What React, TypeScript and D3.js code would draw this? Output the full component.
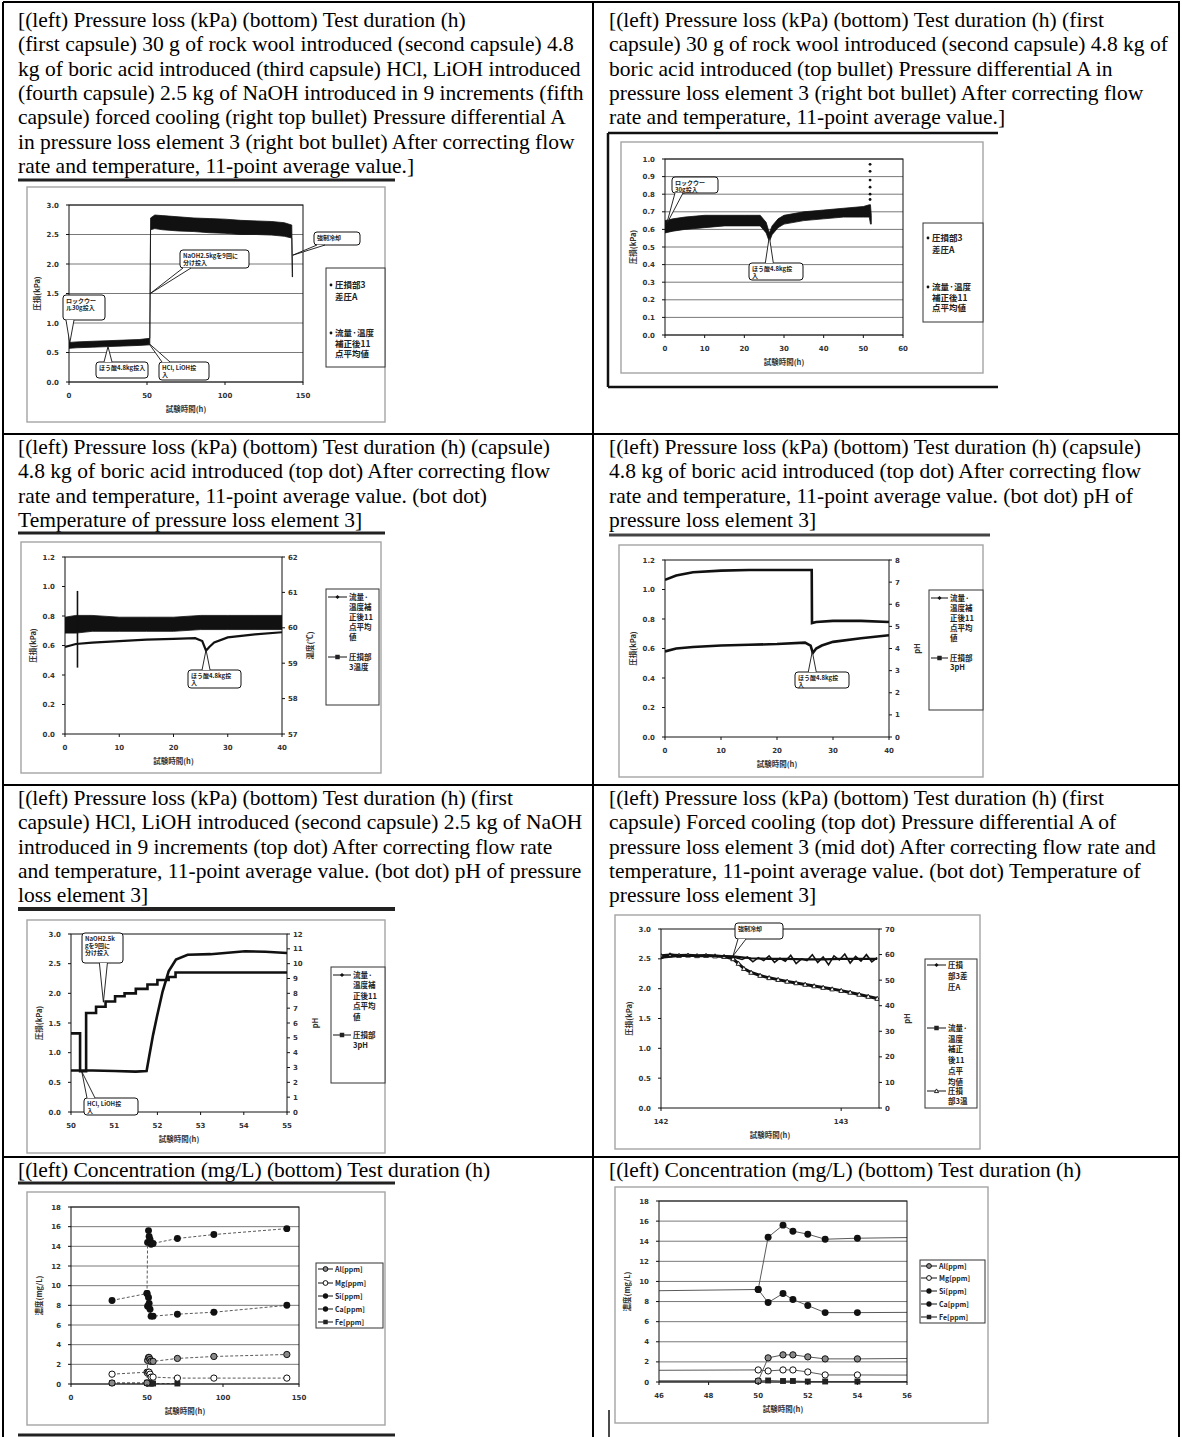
import React from "react";
import * as d3 from "d3";

const SERIF = "'Liberation Serif', 'Times New Roman', serif";
const JP = "'Noto Sans CJK JP', 'Noto Sans', sans-serif";
const NUM = "'DejaVu Sans', sans-serif";

// caption text, one entry per printed line
const captionA = [
  "[(left) Pressure loss (kPa) (bottom) Test duration (h)",
  "(first capsule) 30 g of rock wool introduced (second capsule) 4.8",
  "kg of boric acid introduced (third capsule) HCl, LiOH introduced",
  "(fourth capsule) 2.5 kg of NaOH introduced in 9 increments (fifth",
  "capsule) forced cooling (right top bullet) Pressure differential A",
  "in pressure loss element 3 (right bot bullet) After correcting flow",
  "rate and temperature, 11-point average value.]",
];
const captionB = [
  "[(left) Pressure loss (kPa) (bottom) Test duration (h) (first",
  "capsule) 30 g of rock wool introduced (second capsule) 4.8 kg of",
  "boric acid introduced (top bullet) Pressure differential A in",
  "pressure loss element 3 (right bot bullet) After correcting flow",
  "rate and temperature, 11-point average value.]",
];
const captionC = [
  "[(left) Pressure loss (kPa) (bottom) Test duration (h) (capsule)",
  "4.8 kg of boric acid introduced (top dot) After correcting flow",
  "rate and temperature, 11-point average value. (bot dot)",
  "Temperature of pressure loss element 3]",
];
const captionD = [
  "[(left) Pressure loss (kPa) (bottom) Test duration (h) (capsule)",
  "4.8 kg of boric acid introduced (top dot) After correcting flow",
  "rate and temperature, 11-point average value. (bot dot) pH of",
  "pressure loss element 3]",
];
const captionE = [
  "[(left) Pressure loss (kPa) (bottom) Test duration (h) (first",
  "capsule) HCl, LiOH introduced (second capsule) 2.5 kg of NaOH",
  "introduced in 9 increments (top dot) After correcting flow rate",
  "and temperature, 11-point average value. (bot dot) pH of pressure",
  "loss element 3]",
];
const captionF = [
  "[(left) Pressure loss (kPa) (bottom) Test duration (h) (first",
  "capsule) Forced cooling (top dot) Pressure differential A of",
  "pressure loss element 3 (mid dot) After correcting flow rate and",
  "temperature, 11-point average value. (bot dot) Temperature of",
  "pressure loss element 3]",
];
const captionConc = ["[(left) Concentration (mg/L) (bottom) Test duration (h)"];

// Fig A: whole run, 0-150 h. noisy trace kept as low / high envelope
const aTime = [0, 5, 15, 25, 35, 45, 51.8, 52.3, 55, 60, 70, 80, 90, 100, 110, 120, 130, 138, 142.8, 143.1, 143.3];
const aLow = [0.57, 0.58, 0.59, 0.6, 0.61, 0.62, 0.63, 2.58, 2.6, 2.58, 2.56, 2.55, 2.53, 2.52, 2.5, 2.5, 2.49, 2.47, 2.44, 1.78, 1.78];
const aHigh = [0.67, 0.68, 0.69, 0.7, 0.71, 0.72, 0.74, 2.78, 2.83, 2.82, 2.8, 2.78, 2.77, 2.76, 2.74, 2.73, 2.72, 2.7, 2.66, 2.1, 1.84];
const aXTicks = [0, 50, 100, 150];
const aYTicks = [0, 0.5, 1, 1.5, 2, 2.5, 3];

// Fig B: 0-60 h
const bTime = [0, 2, 5, 10, 15, 20, 24, 25.5, 26.3, 27, 28.5, 30, 35, 40, 45, 50, 51.5, 51.8, 52.0];
const bLow = [0.58, 0.59, 0.6, 0.61, 0.62, 0.62, 0.62, 0.58, 0.53, 0.57, 0.61, 0.63, 0.65, 0.66, 0.67, 0.67, 0.67, 0.63, 0.63];
const bHigh = [0.65, 0.66, 0.67, 0.68, 0.68, 0.68, 0.68, 0.64, 0.58, 0.62, 0.66, 0.68, 0.7, 0.71, 0.72, 0.73, 0.74, 0.74, 0.68];
const bSpikeTime = 51.7;
const bSpikeVals = [0.97, 0.93, 0.88, 0.84, 0.8, 0.77];
const bXTicks = [0, 10, 20, 30, 40, 50, 60];
const bYTicks = [0, 0.1, 0.2, 0.3, 0.4, 0.5, 0.6, 0.7, 0.8, 0.9, 1.0];

// Fig C: pressure (left) and temperature (right, degC)
const cTime = [0, 1, 2, 5, 10, 15, 20, 24, 25.3, 26, 26.6, 27.5, 30, 35, 40];
const cPress = [0.59, 0.6, 0.61, 0.62, 0.63, 0.64, 0.645, 0.65, 0.63, 0.565, 0.59, 0.62, 0.655, 0.675, 0.69];
const cSpikeTime = [2.3, 2.3];
const cSpikeVals = [0.45, 0.97];
const cTempTime = [0, 2, 5, 10, 15, 20, 25, 30, 35, 40];
const cTempLow = [59.85, 59.85, 59.9, 59.9, 59.9, 59.9, 59.95, 59.95, 59.95, 59.95];
const cTempHigh = [60.3, 60.35, 60.35, 60.3, 60.3, 60.3, 60.35, 60.35, 60.35, 60.35];
const cXTicks = [0, 10, 20, 30, 40];
const cYTicks = [0, 0.2, 0.4, 0.6, 0.8, 1.0, 1.2];
const cRTicks = [57, 58, 59, 60, 61, 62];

// Fig D: pressure (left) and pH (right)
const dTime = [0, 2, 5, 10, 15, 20, 25, 26, 26.4, 27, 28, 30, 35, 40];
const dPress = [0.58, 0.6, 0.61, 0.62, 0.625, 0.63, 0.64, 0.62, 0.57, 0.6, 0.62, 0.645, 0.67, 0.69];
const dPhTime = [0, 2, 5, 10, 15, 20, 26.2, 26.25, 27, 30, 35, 40];
const dPh = [7.1, 7.3, 7.45, 7.52, 7.55, 7.55, 7.55, 5.15, 5.2, 5.25, 5.25, 5.2];
const dRTicks = [0, 1, 2, 3, 4, 5, 6, 7, 8];

// Fig E: 50-55 h, pressure and pH (NaOH in 9 steps)
const ePressTime = [50, 50.5, 51, 51.5, 51.75, 51.81, 51.9, 51.99, 52.12, 52.26, 52.43, 52.7, 53.23, 54.03, 54.5, 55];
const ePress = [0.7, 0.7, 0.69, 0.68, 0.69, 0.94, 1.3, 1.61, 2.03, 2.37, 2.57, 2.65, 2.66, 2.71, 2.7, 2.68];
const ePhTime = [50, 50.21, 50.35, 50.58, 50.8, 51.02, 51.24, 51.5, 51.77, 52.0, 52.26, 52.42, 55];
const ePh = [5.3, 2.75, 6.67, 7.1, 7.45, 7.8, 8.0, 8.3, 8.6, 8.9, 9.1, 9.4, 9.35];
const eXTicks = [50, 51, 52, 53, 54, 55];
const eYTicks = [0, 0.5, 1, 1.5, 2, 2.5, 3];
const eRTicks = [0, 1, 2, 3, 4, 5, 6, 7, 8, 9, 10, 11, 12];

// Fig F: forced cooling, 142-143.2 h
const fPressTime = [142.0, 142.05, 142.1, 142.15, 142.2, 142.25, 142.3, 142.35, 142.4, 142.45, 142.48, 142.51, 142.54, 142.57, 142.6, 142.63, 142.66, 142.69, 142.72, 142.75, 142.78, 142.81, 142.84, 142.87, 142.9, 142.93, 142.96, 142.99, 143.02, 143.05, 143.08, 143.11, 143.14, 143.17, 143.2];
const fPress = [2.5, 2.58, 2.55, 2.56, 2.54, 2.56, 2.55, 2.55, 2.53, 2.49, 2.53, 2.45, 2.52, 2.47, 2.55, 2.44, 2.51, 2.46, 2.56, 2.42, 2.5, 2.47, 2.57, 2.44, 2.53, 2.4, 2.55, 2.48, 2.58, 2.43, 2.54, 2.46, 2.57, 2.45, 2.52];
const fAvgTime = [142.0, 142.1, 142.2, 142.3, 142.4, 142.5, 142.6, 142.7, 142.8, 142.9, 143.0, 143.1, 143.2];
const fAvg = [2.52, 2.55, 2.55, 2.55, 2.54, 2.51, 2.5, 2.5, 2.49, 2.49, 2.5, 2.5, 2.5];
const fTempTime = [142.0, 142.05, 142.1, 142.15, 142.2, 142.25, 142.3, 142.35, 142.4, 142.43, 142.46, 142.5, 142.55, 142.6, 142.65, 142.7, 142.75, 142.8, 142.85, 142.9, 142.95, 143.0, 143.05, 143.1, 143.15, 143.2];
const fTemp = [59.5, 59.8, 59.6, 59.7, 59.5, 59.6, 59.4, 59.2, 58.3, 56.5, 54.5, 53.0, 51.8, 50.9, 50.2, 49.5, 48.9, 48.3, 47.7, 47.1, 46.5, 45.9, 45.2, 44.4, 43.6, 42.8];
const fXTicks = [142, 143];
const fYTicks = [0, 0.5, 1, 1.5, 2, 2.5, 3];
const fRTicks = [0, 10, 20, 30, 40, 50, 60, 70];

// Fig G / H: water quality samples (mg/L)
const concTime = [27, 50, 50.4, 51.0, 51.4, 52.0, 52.7, 54.0, 70, 94, 142];
const alConc = [0.1, 0.1, 2.4, 2.7, 2.7, 2.5, 2.3, 2.3, 2.6, 2.8, 3.0];
const mgConc = [1.0, 1.2, 1.1, 1.2, 1.2, 1.0, 0.7, 0.7, 0.6, 0.6, 0.6];
const siConc = [null, 9.2, 14.4, 15.6, 15.0, 14.7, 14.2, 14.3, 14.8, 15.2, 15.8];
const caConc = [8.5, 9.2, 7.9, 8.8, 8.2, 7.6, 6.9, 6.9, 7.1, 7.3, 8.0];
const feConc = [0.1, 0.1, 0.15, 0.1, 0.1, 0.05, 0.05, 0.05, 0.05, null, null];
const gXTicks = [0, 50, 100, 150];
const hXTicks = [46, 48, 50, 52, 54, 56];
const concYTicks = [0, 2, 4, 6, 8, 10, 12, 14, 16, 18];
const concNames = ["Al[ppm]", "Mg[ppm]", "Si[ppm]", "Ca[ppm]", "Fe[ppm]"];

type Box = { x: number; y: number; w: number; h: number };
type Rect = { left: number; right: number; top: number; bottom: number };
type Mark = "bullet" | "diamond" | "square" | "triangle" | "grayCircle" | "openCircle" | "dot";
type LegendItem = { lines: string[]; mark: Mark; y: number; pitch: number };
type Legend = { box: Box; markX: [number, number]; textX: number; size: number; items: LegendItem[] };
type Note = { lines: string[]; box: Box; at: [number, number] };
type S = d3.ScaleLinear<number, number>;

const fmt1 = d3.format(".1f");
const fmt0 = d3.format("d");

function linePath(ts: number[], vs: (number | null)[], x: S, y: S, curve = d3.curveLinear) {
  const idx = ts.map((_, i) => i);
  return (
    d3
      .line<number>()
      .defined((i) => vs[i] != null)
      .x((i) => x(ts[i]))
      .y((i) => y(vs[i] as number))
      .curve(curve)(idx) ?? ""
  );
}

function bandPath(ts: number[], lo: number[], hi: number[], x: S, y: S) {
  const idx = ts.map((_, i) => i);
  return (
    d3
      .area<number>()
      .x((i) => x(ts[i]))
      .y0((i) => y(lo[i]))
      .y1((i) => y(hi[i]))(idx) ?? ""
  );
}

function Marker({ kind, cx, cy, s = 1 }: { kind: Mark; cx: number; cy: number; s?: number }) {
  switch (kind) {
    case "bullet":
      return <circle cx={cx} cy={cy} r={1.4} fill="#111" />;
    case "diamond":
      return <path d={`M${cx},${cy - 2.6 * s}L${cx + 2.6 * s},${cy}L${cx},${cy + 2.6 * s}L${cx - 2.6 * s},${cy}Z`} fill="#111" />;
    case "square":
      return <rect x={cx - 2.8 * s} y={cy - 2.8 * s} width={5.6 * s} height={5.6 * s} fill="#222" />;
    case "triangle":
      return <path d={`M${cx},${cy - 2.6 * s}L${cx + 2.6 * s},${cy + 2 * s}L${cx - 2.6 * s},${cy + 2 * s}Z`} fill="#fff" stroke="#111" strokeWidth={0.9} />;
    case "grayCircle":
      return <circle cx={cx} cy={cy} r={3 * s} fill="#8a8a8a" stroke="#111" strokeWidth={1} />;
    case "openCircle":
      return <circle cx={cx} cy={cy} r={3 * s} fill="#fff" stroke="#111" strokeWidth={1} />;
    default:
      return <circle cx={cx} cy={cy} r={3.3 * s} fill="#111" />;
  }
}

function Callout({ note, x, y }: { note: Note; x: S; y: S }) {
  const { box } = note;
  const tx = x(note.at[0]);
  const ty = y(note.at[1]);
  const clamp = (v: number, a: number, b: number) => Math.max(a, Math.min(b, v));
  let b1: [number, number];
  let b2: [number, number];
  if (ty > box.y + box.h) {
    const c = clamp(tx, box.x + 7, box.x + box.w - 7);
    b1 = [c - 4, box.y + box.h];
    b2 = [c + 4, box.y + box.h];
  } else if (ty < box.y) {
    const c = clamp(tx, box.x + 7, box.x + box.w - 7);
    b1 = [c - 4, box.y];
    b2 = [c + 4, box.y];
  } else if (tx < box.x) {
    const c = clamp(ty, box.y + 4, box.y + box.h - 4);
    b1 = [box.x, c - 3];
    b2 = [box.x, c + 3];
  } else {
    const c = clamp(ty, box.y + 4, box.y + box.h - 4);
    b1 = [box.x + box.w, c - 3];
    b2 = [box.x + box.w, c + 3];
  }
  return (
    <g>
      <rect x={box.x} y={box.y} width={box.w} height={box.h} rx={3} fill="#fff" stroke="#111" strokeWidth={1} />
      <path d={`M${b1[0]},${b1[1]}L${tx},${ty}L${b2[0]},${b2[1]}`} fill="#fff" stroke="#111" strokeWidth={0.9} />
      {note.lines.map((l, i) => (
        <text key={i} x={box.x + 3} y={box.y + 7.5 + i * 7} fontFamily={JP} fontSize={6} fontWeight={700} fill="#222">
          {l}
        </text>
      ))}
    </g>
  );
}

function LegendBox({ lg }: { lg: Legend }) {
  return (
    <g>
      <rect x={lg.box.x} y={lg.box.y} width={lg.box.w} height={lg.box.h} fill="#fff" stroke="#333" strokeWidth={1} />
      {lg.items.map((it, k) => (
        <g key={k}>
          {it.mark === "bullet" ? (
            <Marker kind="bullet" cx={lg.markX[0]} cy={it.y} />
          ) : (
            <g>
              <line x1={lg.markX[0]} x2={lg.markX[1]} y1={it.y} y2={it.y} stroke="#111" strokeWidth={1} />
              <Marker kind={it.mark} cx={(lg.markX[0] + lg.markX[1]) / 2} cy={it.y} s={0.8} />
            </g>
          )}
          {it.lines.map((l, i) => (
            <text key={i} x={lg.textX} y={it.y + i * it.pitch + lg.size * 0.38} fontFamily={JP} fontSize={lg.size} fontWeight={700} fill="#222">
              {l}
            </text>
          ))}
        </g>
      ))}
    </g>
  );
}

type PanelProps = {
  id: string;
  frame: Box;
  plot: Rect;
  xDomain: [number, number];
  xTicks: number[];
  yDomain: [number, number];
  yTicks: number[];
  yFormat: (d: number) => string;
  rDomain?: [number, number];
  rTicks?: number[];
  rLabel?: string;
  grid?: boolean;
  yLabel: string;
  legend: Legend;
  notes?: Note[];
  lines: (x: S, y: S, r: S) => React.ReactNode;
  marks?: (x: S, y: S, r: S) => React.ReactNode;
};

function Panel(p: PanelProps) {
  const { plot, frame } = p;
  const x = d3.scaleLinear().domain(p.xDomain).range([plot.left, plot.right]);
  const y = d3.scaleLinear().domain(p.yDomain).range([plot.bottom, plot.top]);
  const r = p.rDomain ? d3.scaleLinear().domain(p.rDomain).range([plot.bottom, plot.top]) : y;
  const clip = `clip-${p.id}`;
  const tick = { fontFamily: NUM, fontSize: 7, fontWeight: 700, fill: "#333" } as const;
  const label = { fontFamily: JP, fontSize: 7.5, fontWeight: 700, fill: "#333" } as const;
  const midY = (plot.top + plot.bottom) / 2;
  return (
    <g>
      <rect x={frame.x} y={frame.y} width={frame.w} height={frame.h} fill="#fff" stroke="#a4a4a4" strokeWidth={1.4} />
      <clipPath id={clip}>
        <rect x={plot.left} y={plot.top} width={plot.right - plot.left} height={plot.bottom - plot.top} />
      </clipPath>
      {p.grid &&
        p.yTicks.map((t) => (
          <line key={t} x1={plot.left} x2={plot.right} y1={y(t)} y2={y(t)} stroke="#6a6a6a" strokeWidth={0.9} />
        ))}
      <g clipPath={`url(#${clip})`}>{p.lines(x, y, r)}</g>
      <rect x={plot.left} y={plot.top} width={plot.right - plot.left} height={plot.bottom - plot.top} fill="none" stroke="#111" strokeWidth={1} />
      {p.marks && p.marks(x, y, r)}
      {p.xTicks.map((t) => (
        <g key={`x${t}`}>
          <line x1={x(t)} x2={x(t)} y1={plot.bottom} y2={plot.bottom + 3} stroke="#111" />
          <text x={x(t)} y={plot.bottom + 16} textAnchor="middle" {...tick}>
            {fmt0(t)}
          </text>
        </g>
      ))}
      {p.yTicks.map((t) => (
        <g key={`y${t}`}>
          <line x1={plot.left - 3} x2={plot.left} y1={y(t)} y2={y(t)} stroke="#111" />
          <text x={plot.left - 10} y={y(t) + 2.5} textAnchor="end" {...tick}>
            {p.yFormat(t)}
          </text>
        </g>
      ))}
      {p.rTicks &&
        p.rTicks.map((t) => (
          <g key={`r${t}`}>
            <line x1={plot.right} x2={plot.right + 3} y1={r(t)} y2={r(t)} stroke="#111" />
            <text x={plot.right + 6} y={r(t) + 2.5} {...tick}>
              {fmt0(t)}
            </text>
          </g>
        ))}
      <text x={(plot.left + plot.right) / 2} y={plot.bottom + 30} textAnchor="middle" {...label}>
        試験時間(h)
      </text>
      <text transform={`translate(${plot.left - 29},${midY}) rotate(-90)`} textAnchor="middle" {...label}>
        {p.yLabel}
      </text>
      {p.rLabel && (
        <text transform={`translate(${plot.right + 31},${midY}) rotate(-90)`} textAnchor="middle" {...label}>
          {p.rLabel}
        </text>
      )}
      <LegendBox lg={p.legend} />
      {p.notes && p.notes.map((n, i) => <Callout key={i} note={n} x={x} y={y} />)}
    </g>
  );
}

function Caption({ lines, x, y }: { lines: string[]; x: number; y: number }) {
  return (
    <text fontFamily={SERIF} fontSize={21.5} fill="#000">
      {lines.map((l, i) => (
        <tspan key={i} x={x} y={y + i * 24.3}>
          {l}
        </tspan>
      ))}
    </text>
  );
}

const avgLines = ["流量·", "温度補", "正後11", "点平均", "値"];

function concLines(x: S, y: S, dashed: boolean) {
  const series = [alConc, mgConc, siConc, caConc, feConc];
  return series.map((vs, k) => (
    <path
      key={k}
      d={linePath(concTime, vs, x, y)}
      fill="none"
      stroke="#5a5a5a"
      strokeWidth={1}
      strokeDasharray={dashed ? "3 2" : undefined}
    />
  ));
}

function concMarks(x: S, y: S, xDomain: [number, number]) {
  const series: [(number | null)[], Mark][] = [
    [feConc, "square"],
    [mgConc, "openCircle"],
    [alConc, "grayCircle"],
    [caConc, "dot"],
    [siConc, "dot"],
  ];
  return series.map(([vs, m], k) => (
    <g key={k}>
      {concTime.map((t, i) =>
        vs[i] == null || t < xDomain[0] || t > xDomain[1] ? null : (
          <Marker key={i} kind={m} cx={x(t)} cy={y(vs[i] as number)} s={1.05} />
        )
      )}
    </g>
  ));
}

const concLegendItems = (ys: number[]): LegendItem[] =>
  concNames.map((n, i) => ({
    lines: [n],
    mark: (["grayCircle", "openCircle", "dot", "dot", "square"] as Mark[])[i],
    y: ys[i],
    pitch: 0,
  }));

export default function App() {
  return (
    <svg width={1182} height={1437} viewBox="0 0 1182 1437" style={{ position: "absolute", left: 0, top: 0, background: "#fff" }}>
      <rect width={1182} height={1437} fill="#fff" />

      {/* table rules */}
      <g stroke="#000" strokeWidth={2}>
        <line x1={3} x2={1180} y1={2} y2={2} />
        <line x1={3} x2={1180} y1={434} y2={434} />
        <line x1={3} x2={1180} y1={785} y2={785} />
        <line x1={3} x2={1180} y1={1157} y2={1157} />
        <line x1={3} x2={3} y1={2} y2={1437} />
        <line x1={593} x2={593} y1={2} y2={1437} />
        <line x1={1179} x2={1179} y1={2} y2={1437} />
      </g>

      {/* captions + rules under them */}
      <Caption lines={captionA} x={18} y={27} />
      <Caption lines={captionB} x={609} y={27} />
      <Caption lines={captionC} x={18} y={454} />
      <Caption lines={captionD} x={609} y={454} />
      <Caption lines={captionE} x={18} y={805} />
      <Caption lines={captionF} x={609} y={805} />
      <Caption lines={captionConc} x={18} y={1177} />
      <Caption lines={captionConc} x={609} y={1177} />
      <g stroke="#222">
        <line x1={18} x2={395} y1={180} y2={180} strokeWidth={3} />
        <line x1={18} x2={385} y1={533} y2={533} strokeWidth={3} />
        <line x1={609} x2={990} y1={535} y2={535} strokeWidth={3} stroke="#444" />
        <line x1={18} x2={395} y1={909} y2={909} strokeWidth={4} />
        <line x1={18} x2={395} y1={1183} y2={1183} strokeWidth={3} />
        <line x1={18} x2={395} y1={1435} y2={1435} strokeWidth={3} />
      </g>

      {/* A */}
      <Panel
        id="a"
        frame={{ x: 27, y: 187, w: 358, h: 235 }}
        plot={{ left: 69, right: 303, top: 205, bottom: 382 }}
        xDomain={[0, 150]}
        xTicks={aXTicks}
        yDomain={[0, 3]}
        yTicks={aYTicks}
        yFormat={fmt1}
        grid
        yLabel="圧損(kPa)"
        legend={{
          box: { x: 326, y: 268, w: 59, h: 99 },
          markX: [331, 331],
          textX: 335,
          size: 8.5,
          items: [
            { lines: ["圧損部3", "差圧A"], mark: "bullet", y: 285, pitch: 12 },
            { lines: ["流量·温度", "補正後11", "点平均値"], mark: "bullet", y: 333, pitch: 10.5 },
          ],
        }}
        notes={[
          { lines: ["ロックウー", "ル30g投入"], box: { x: 63, y: 295, w: 42, h: 25 }, at: [0.5, 0.66] },
          { lines: ["ほう酸4.8kg投入"], box: { x: 96, y: 362, w: 52, h: 16 }, at: [25, 0.6] },
          { lines: ["HCl, LiOH投", "入"], box: { x: 159, y: 362, w: 50, h: 18 }, at: [51, 0.66] },
          { lines: ["NaOH2.5kgを9回に", "分け投入"], box: { x: 180, y: 250, w: 69, h: 18 }, at: [52.1, 1.5] },
          { lines: ["強制冷却"], box: { x: 314, y: 232, w: 46, h: 13 }, at: [143.5, 2.15] },
        ]}
        lines={(x, y) => <path d={bandPath(aTime, aLow, aHigh, x, y)} fill="#111" stroke="#111" strokeWidth={0.8} />}
      />

      {/* B */}
      <g stroke="#111" strokeWidth={2.5}>
        <line x1={608} x2={998} y1={133} y2={133} />
        <line x1={608} x2={608} y1={133} y2={387} />
        <line x1={608} x2={998} y1={387} y2={387} />
      </g>
      <Panel
        id="b"
        frame={{ x: 621, y: 142, w: 362, h: 231 }}
        plot={{ left: 665, right: 903, top: 159, bottom: 335 }}
        xDomain={[0, 60]}
        xTicks={bXTicks}
        yDomain={[0, 1]}
        yTicks={bYTicks}
        yFormat={fmt1}
        grid
        yLabel="圧損(kPa)"
        legend={{
          box: { x: 923, y: 223, w: 60, h: 99 },
          markX: [928, 928],
          textX: 932,
          size: 8.5,
          items: [
            { lines: ["圧損部3", "差圧A"], mark: "bullet", y: 238, pitch: 12 },
            { lines: ["流量·温度", "補正後11", "点平均値"], mark: "bullet", y: 287, pitch: 10.5 },
          ],
        }}
        notes={[
          { lines: ["ロックウー", "30g投入"], box: { x: 672, y: 177, w: 46, h: 16 }, at: [0.4, 0.63] },
          { lines: ["ほう酸4.8kg投", "入"], box: { x: 749, y: 263, w: 54, h: 17 }, at: [26.3, 0.56] },
        ]}
        lines={(x, y) => (
          <g>
            <path d={bandPath(bTime, bLow, bHigh, x, y)} fill="#111" stroke="#111" strokeWidth={0.8} />
            {bSpikeVals.map((v, i) => (
              <circle key={i} cx={x(bSpikeTime)} cy={y(v)} r={1.4} fill="#111" />
            ))}
          </g>
        )}
      />

      {/* C */}
      <Panel
        id="c"
        frame={{ x: 21, y: 542, w: 360, h: 231 }}
        plot={{ left: 65, right: 282, top: 557, bottom: 734 }}
        xDomain={[0, 40]}
        xTicks={cXTicks}
        yDomain={[0, 1.2]}
        yTicks={cYTicks}
        yFormat={fmt1}
        rDomain={[57, 62]}
        rTicks={cRTicks}
        rLabel="温度(℃)"
        yLabel="圧損(kPa)"
        legend={{
          box: { x: 326, y: 589, w: 53, h: 116 },
          markX: [328, 347],
          textX: 349,
          size: 7.5,
          items: [
            { lines: avgLines, mark: "diamond", y: 597, pitch: 10 },
            { lines: ["圧損部", "3温度"], mark: "square", y: 657, pitch: 10 },
          ],
        }}
        notes={[{ lines: ["ほう酸4.8kg投", "入"], box: { x: 188, y: 670, w: 53, h: 18 }, at: [26, 0.57] }]}
        lines={(x, y, r) => (
          <g>
            <path d={bandPath(cTempTime, cTempLow, cTempHigh, x, r)} fill="#111" stroke="#111" strokeWidth={0.8} />
            <path d={linePath(cTime, cPress, x, y)} fill="none" stroke="#111" strokeWidth={2.2} />
            <path d={linePath(cSpikeTime, cSpikeVals, x, y)} fill="none" stroke="#111" strokeWidth={1.6} />
          </g>
        )}
      />

      {/* D */}
      <Panel
        id="d"
        frame={{ x: 619, y: 545, w: 364, h: 232 }}
        plot={{ left: 665, right: 889, top: 560, bottom: 737 }}
        xDomain={[0, 40]}
        xTicks={cXTicks}
        yDomain={[0, 1.2]}
        yTicks={cYTicks}
        yFormat={fmt1}
        rDomain={[0, 8]}
        rTicks={dRTicks}
        rLabel="pH"
        yLabel="圧損(kPa)"
        legend={{
          box: { x: 929, y: 590, w: 54, h: 120 },
          markX: [931, 948],
          textX: 950,
          size: 7.5,
          items: [
            { lines: avgLines, mark: "diamond", y: 598, pitch: 10 },
            { lines: ["圧損部", "3pH"], mark: "square", y: 658, pitch: 9 },
          ],
        }}
        notes={[{ lines: ["ほう酸4.8kg投", "入"], box: { x: 795, y: 672, w: 54, h: 16 }, at: [26.3, 0.58] }]}
        lines={(x, y, r) => (
          <g>
            <path d={linePath(dPhTime, dPh, x, r)} fill="none" stroke="#111" strokeWidth={2.6} />
            <path d={linePath(dTime, dPress, x, y)} fill="none" stroke="#111" strokeWidth={2.6} />
          </g>
        )}
      />

      {/* E */}
      <Panel
        id="e"
        frame={{ x: 27, y: 920, w: 358, h: 233 }}
        plot={{ left: 71, right: 287, top: 934, bottom: 1112 }}
        xDomain={[50, 55]}
        xTicks={eXTicks}
        yDomain={[0, 3]}
        yTicks={eYTicks}
        yFormat={fmt1}
        rDomain={[0, 12]}
        rTicks={eRTicks}
        rLabel="pH"
        yLabel="圧損(kPa)"
        legend={{
          box: { x: 331, y: 967, w: 54, h: 116 },
          markX: [333, 351],
          textX: 353,
          size: 7.5,
          items: [
            { lines: avgLines, mark: "diamond", y: 975, pitch: 10.5 },
            { lines: ["圧損部", "3pH"], mark: "square", y: 1035, pitch: 10 },
          ],
        }}
        notes={[
          { lines: ["NaOH2.5k", "gを9回に", "分け投入"], box: { x: 82, y: 933, w: 41, h: 30 }, at: [50.75, 1.85] },
          { lines: ["HCl, LiOH投", "入"], box: { x: 84, y: 1098, w: 54, h: 17 }, at: [50.25, 0.68] },
        ]}
        lines={(x, y, r) => (
          <g>
            <path d={linePath(ePhTime, ePh, x, r, d3.curveStepAfter)} fill="none" stroke="#111" strokeWidth={2.6} />
            <path d={linePath(ePressTime, ePress, x, y)} fill="none" stroke="#111" strokeWidth={2.6} />
          </g>
        )}
      />

      {/* F */}
      <Panel
        id="f"
        frame={{ x: 615, y: 915, w: 365, h: 234 }}
        plot={{ left: 661, right: 879, top: 929, bottom: 1108 }}
        xDomain={[142, 143.21]}
        xTicks={fXTicks}
        yDomain={[0, 3]}
        yTicks={fYTicks}
        yFormat={fmt1}
        rDomain={[0, 70]}
        rTicks={fRTicks}
        rLabel="pH"
        yLabel="圧損(kPa)"
        legend={{
          box: { x: 925, y: 959, w: 52, h: 149 },
          markX: [927, 946],
          textX: 948,
          size: 7.5,
          items: [
            { lines: ["圧損", "部3差", "圧A"], mark: "diamond", y: 965, pitch: 11 },
            { lines: ["流量·", "温度", "補正", "後11", "点平", "均値"], mark: "square", y: 1028, pitch: 10.8 },
            { lines: ["圧損", "部3温"], mark: "triangle", y: 1091, pitch: 10 },
          ],
        }}
        notes={[{ lines: ["強制冷却"], box: { x: 735, y: 923, w: 48, h: 16 }, at: [142.4, 2.55] }]}
        lines={(x, y, r) => (
          <g>
            <path d={linePath(fTempTime, fTemp, x, r)} fill="none" stroke="#111" strokeWidth={3} />
            {fTempTime.map((t, i) => (
              <Marker key={i} kind="triangle" cx={x(t)} cy={r(fTemp[i])} s={0.9} />
            ))}
            <path d={linePath(fAvgTime, fAvg, x, y)} fill="none" stroke="#111" strokeWidth={2.2} />
            <path d={linePath(fPressTime, fPress, x, y)} fill="none" stroke="#111" strokeWidth={1.6} />
          </g>
        )}
      />

      {/* G */}
      <Panel
        id="g"
        frame={{ x: 27, y: 1192, w: 358, h: 233 }}
        plot={{ left: 71, right: 299, top: 1207, bottom: 1384 }}
        xDomain={[0, 150]}
        xTicks={gXTicks}
        yDomain={[0, 18]}
        yTicks={concYTicks}
        yFormat={fmt0}
        grid
        yLabel="濃度(mg/L)"
        legend={{
          box: { x: 316, y: 1263, w: 67, h: 65 },
          markX: [318, 333],
          textX: 335,
          size: 7,
          items: concLegendItems([1269, 1283, 1296, 1309, 1322]),
        }}
        lines={(x, y) => concLines(x, y, true)}
        marks={(x, y) => concMarks(x, y, [0, 150])}
      />

      {/* H */}
      <Panel
        id="h"
        frame={{ x: 615, y: 1187, w: 373, h: 236 }}
        plot={{ left: 659, right: 907, top: 1201, bottom: 1382 }}
        xDomain={[46, 56]}
        xTicks={hXTicks}
        yDomain={[0, 18]}
        yTicks={concYTicks}
        yFormat={fmt0}
        grid
        yLabel="濃度(mg/L)"
        legend={{
          box: { x: 920, y: 1260, w: 65, h: 63 },
          markX: [921, 937],
          textX: 939,
          size: 7,
          items: concLegendItems([1266, 1278, 1291, 1304, 1317]),
        }}
        lines={(x, y) => concLines(x, y, false)}
        marks={(x, y) => concMarks(x, y, [46, 56])}
      />
      <line x1={609} x2={609} y1={1410} y2={1437} stroke="#111" strokeWidth={1.5} />
    </svg>
  );
}
